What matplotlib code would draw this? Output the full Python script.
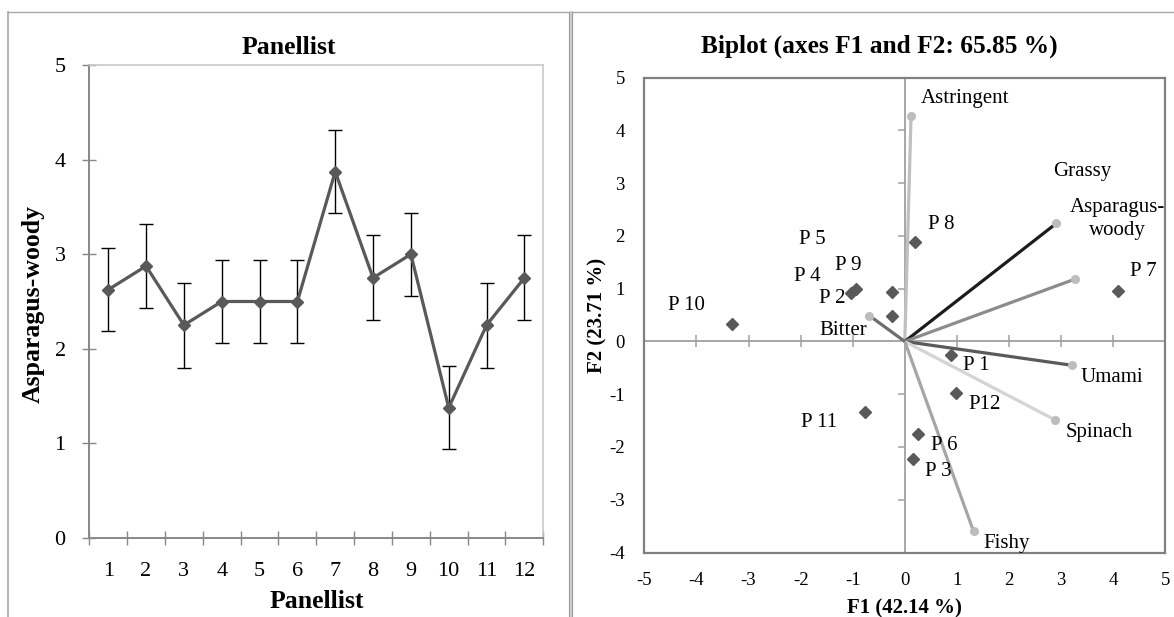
import matplotlib
matplotlib.use("Agg")
import matplotlib.pyplot as plt
from matplotlib.lines import Line2D
import numpy as np

plt.rcParams['font.family'] = ['Liberation Serif', 'DejaVu Serif']
plt.rcParams['axes.unicode_minus'] = False

# --- panellist means for asparagus-woody ---
panellists = list(range(1, 13))
woody_mean = [2.625, 2.875, 2.25, 2.5, 2.5, 2.5, 3.875, 2.75, 3.0, 1.375, 2.25, 2.75]
woody_err = [0.44, 0.44, 0.45, 0.44, 0.44, 0.44, 0.44, 0.45, 0.44, 0.44, 0.45, 0.45]

# --- PCA biplot ---
attr_names = ["Astringent", "Grassy", "Asparagus-\nwoody", "Umami", "Spinach", "Fishy", "Bitter"]
attr_f1 = [0.12, 2.91, 3.26, 3.20, 2.89, 1.32, -0.68]
attr_f2 = [4.28, 2.24, 1.18, -0.45, -1.49, -3.60, 0.49]
attr_colors = ["#c0c0c0", "#1c1c1c", "#8c8c8c", "#5a5a5a", "#d4d4d4", "#a6a6a6", "#6e6e6e"]

obs_names = ["P 1", "P 2", "P 3", "P 4", "P 5", "P 6", "P 7", "P 8", "P 9", "P 10", "P 11", "P12"]
obs_f1 = [0.89, -1.03, 0.15, -0.25, -0.25, 0.25, 4.09, 0.20, -0.94, -3.32, -0.76, 0.99]
obs_f2 = [-0.25, 0.92, -2.22, 0.49, 0.94, -1.75, 0.96, 1.89, 0.99, 0.34, -1.33, -0.97]

# where each name is written (data coords, text centre)
attr_label_at = [(1.16, 4.61), (3.40, 3.23), (4.09, 2.32), (3.98, -0.69),
                 (3.73, -1.72), (1.95, -3.82), (-1.19, 0.21)]
obs_label_at = [(1.38, -0.46), (-1.40, 0.82), (0.65, -2.46), (-1.87, 1.23),
                (-1.78, 1.94), (0.75, -1.98), (4.58, 1.33), (0.70, 2.22),
                (-1.08, 1.44), (-4.19, 0.69), (-1.65, -1.54), (1.53, -1.19)]

W, H = 1174, 617
fig = plt.figure(figsize=(W / 100, H / 100), dpi=100)


def px(x, y):
    return x / W, 1 - y / H


# outer frame and panel divider
frame_c = "#a8a8a8"
fig.add_artist(Line2D([7.7 / W, 1], [1 - 11.5 / H] * 2, color=frame_c, lw=1.0))
fig.add_artist(Line2D([7.7 / W] * 2, [0, 1 - 11.5 / H], color=frame_c, lw=1.2))
fig.add_artist(Line2D([570.8 / W] * 2, [0, 1 - 11.5 / H], color="#d0d0d0", lw=2.4))
for xx in (569.3, 572.3):
    fig.add_artist(Line2D([xx / W] * 2, [0, 1 - 11.5 / H], color="#9a9a9a", lw=0.8))

# ---------------- left panel ----------------
ax1 = fig.add_axes([89.3 / W, 1 - 537.7 / H, 454 / W, 472.4 / H])
ax1.errorbar(panellists, woody_mean, yerr=woody_err, fmt="none", ecolor="black",
             elinewidth=1.0, capsize=4.8, capthick=1.0, zorder=2)
ax1.plot(panellists, woody_mean, color="#595959", lw=2.3, marker="D", ms=6.6,
         mfc="#595959", mec="#595959", zorder=3)
ax1.set_xlim(0.5, 12.5)
ax1.set_ylim(0, 5)
ax1.set_xticks(panellists)
ax1.set_xticks(np.arange(0.5, 13, 1), minor=True)
ax1.set_yticks(range(6))
ax1.tick_params(axis="x", which="major", length=0, labelsize=16, pad=17.5)
ax1.tick_params(axis="x", which="minor", direction="inout", length=10, width=1, color="#888888")
ax1.tick_params(axis="y", direction="inout", length=10, width=1, color="#888888",
                labelsize=16, pad=12)
for s in ("left", "bottom"):
    ax1.spines[s].set_color("#888888")
    ax1.spines[s].set_linewidth(1.4)
for s in ("top", "right"):
    ax1.spines[s].set_color("#c8c8c8")
    ax1.spines[s].set_linewidth(1.2)

fig.text(*px(289, 47), "Panellist", ha="center", va="center", fontsize=18.5, fontweight="bold")
fig.text(*px(316.6, 602), "Panellist", ha="center", va="center", fontsize=18.5, fontweight="bold")
fig.text(*px(33.3, 303.6), "Asparagus-woody", ha="center", va="center", rotation=90,
         fontsize=18.5, fontweight="bold")

# ---------------- right panel ----------------
ax2 = fig.add_axes([644.3 / W, 1 - 552.5 / H, 521 / W, 474.8 / H])
ax2.set_xlim(-5, 5)
ax2.set_ylim(-4, 5)
ax2.set_xticks(range(-5, 6))
ax2.set_yticks(range(-4, 6))
ax2.tick_params(length=0, labelsize=13.5, pad=14)
for s in ax2.spines.values():
    s.set_color("#808080")
    s.set_linewidth(1.6)

# axes through the origin with Excel-style tick marks
ax2.axhline(0, color="#a0a0a0", lw=1.3, zorder=1)
ax2.axvline(0, color="#a0a0a0", lw=1.3, zorder=1)
ticks_x = [v for v in range(-4, 5) if v != 0]
ticks_y = [v for v in range(-3, 5) if v != 0]
ax2.plot(ticks_x, [0] * len(ticks_x), ls="none", marker="|", ms=9, mew=1.1, color="#a0a0a0", zorder=1)
ax2.plot([0] * len(ticks_y), ticks_y, ls="none", marker=0, ms=5, mew=1.1, color="#a0a0a0", zorder=1)

for fx, fy, c in zip(attr_f1, attr_f2, attr_colors):
    ax2.plot([0, fx], [0, fy], color=c, lw=2.3, solid_capstyle="butt", zorder=2)
ax2.plot(attr_f1, attr_f2, ls="none", marker="o", ms=5.5, color="#bdbdbd", zorder=3)
ax2.plot(obs_f1, obs_f2, ls="none", marker="D", ms=6.2, color="#595959", zorder=4)

for name, (lx, ly) in zip(attr_names, attr_label_at):
    ax2.text(lx, ly, name, ha="center", va="center", fontsize=15, linespacing=1.25, zorder=5)
for name, (lx, ly) in zip(obs_names, obs_label_at):
    ax2.text(lx, ly, name, ha="center", va="center", fontsize=15, zorder=5)

fig.text(*px(879, 46.4), "Biplot (axes F1 and F2: 65.85 %)", ha="center", va="center",
         fontsize=18.3, fontweight="bold")
fig.text(*px(904.8, 608), "F1 (42.14 %)", ha="center", va="center", fontsize=15, fontweight="bold")
fig.text(*px(597, 315.8), "F2 (23.71 %)", ha="center", va="center", rotation=90,
         fontsize=15, fontweight="bold")

fig.savefig("out.png", dpi=100)
